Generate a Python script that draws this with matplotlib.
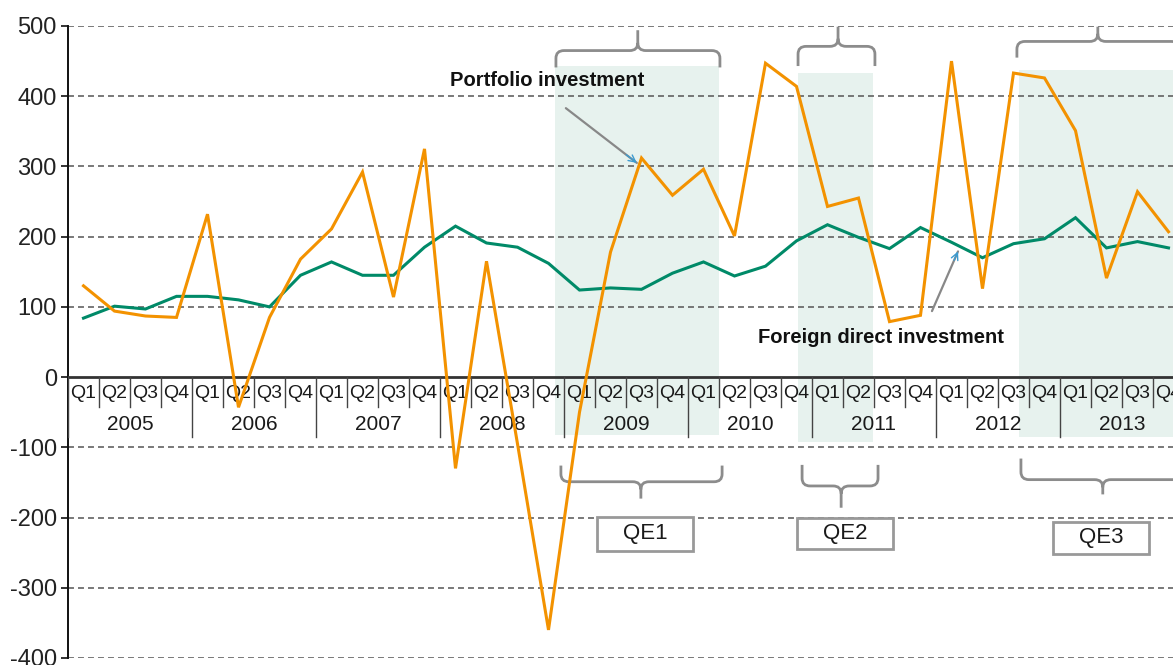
import numpy as np
import matplotlib
matplotlib.use("Agg")
import matplotlib.pyplot as plt
from matplotlib.path import Path
from matplotlib.patches import PathPatch, Rectangle

plt.rcParams['font.family'] = ['Liberation Sans', 'DejaVu Sans']
plt.rcParams['lines.scale_dashes'] = False

# ---------------- data ----------------
years = ['2005', '2006', '2007', '2008', '2009', '2010', '2011', '2012', '2013']
quarter_labels = ['Q1', 'Q2', 'Q3', 'Q4']
portfolio = [130, 94, 87, 85, 232, -43, 85, 168, 211, 292, 114, 325,
             -130, 165, -95, -360, -50, 178, 312, 259, 296, 201, 447, 414,
             243, 255, 79, 88, 450, 126, 433, 426, 351, 141, 264, 207]
fdi = [84, 101, 97, 115, 115, 110, 100, 145, 164, 145, 145, 185,
       215, 191, 185, 162, 124, 127, 125, 148, 164, 144, 158, 194,
       217, 199, 183, 213, 192, 170, 190, 197, 227, 184, 193, 184]
yticks = [-400, -300, -200, -100, 0, 100, 200, 300, 400, 500]
qe_names = ['QE1', 'QE2', 'QE3']

ORANGE = '#F39200'
GREEN = '#008A68'
SHADE = '#E7F2EE'
GRAY = '#8C8C8C'

n = len(portfolio)
x = np.arange(n)

W, H = 1173, 665
fig = plt.figure(figsize=(W / 100, H / 100), dpi=100)
# axes span beyond the right edge (chart is cropped there)
left_px, right_px = 68, 1184
top_px, bot_px = 26, 658
ax = fig.add_axes([left_px / W, (H - bot_px) / H,
                   (right_px - left_px) / W, (bot_px - top_px) / H])
ax.set_xlim(-0.5, n - 0.5)
ax.set_ylim(-400, 500)

for s in ['top', 'right', 'bottom']:
    ax.spines[s].set_visible(False)
ax.spines['left'].set_color('#111111')
ax.spines['left'].set_linewidth(1.4)
ax.set_xticks([])
ax.set_yticks(yticks)
ax.set_yticklabels([str(v) for v in yticks], fontsize=17, color='#222222')
ax.tick_params(axis='y', length=5, width=1.2, pad=3, color='#111111')

# gridlines
for v in yticks:
    if v == 0:
        continue
    ax.axhline(v, color='#555555', lw=1.1, ls=(0, (4.3, 2.9)), zorder=1)
ax.axhline(0, color='#333333', lw=2.0, zorder=3)

# QE shaded periods
shades = [(15.2, 20.5, -82, 443), (23.05, 25.47, -92, 433), (30.18, 36.0, -85, 438)]
for (a, b, y0, y1) in shades:
    ax.add_patch(Rectangle((a, y0), b - a, y1 - y0, facecolor=SHADE,
                           edgecolor='none', zorder=0))

# category axis: quarter and year labels + separators
for i in range(n):
    ax.text(x[i], -24, quarter_labels[i % 4], ha='center', va='center',
            fontsize=14, color='#1a1a1a', zorder=4,
            family=['Liberation Sans Narrow', 'Liberation Sans'])
for i in range(n + 1):
    yb = -85 if i % 4 == 0 else -43
    ax.plot([i - 0.5, i - 0.5], [0, yb], color='#444444', lw=1.0, zorder=3)
for k, yr in enumerate(years):
    ax.text(4 * k + 1.5, -68, yr, ha='center', va='center', fontsize=15,
            color='#1a1a1a', zorder=4)

# series
ax.plot(x, fdi, color=GREEN, lw=2.2, zorder=6, solid_joinstyle='miter')
ax.plot(x, portfolio, color=ORANGE, lw=2.2, zorder=7, solid_joinstyle='miter')


# braces
def brace(x0, x1, xc, yl, ye, yt):
    s = np.sign(yt - yl)
    rx, ry = 0.26, 11.0
    verts = [(x0, ye), (x0, yl - s * ry), (x0, yl), (x0 + rx, yl),
             (xc - rx, yl), (xc, yl), (xc, yl + s * ry), (xc, yt),
             (xc, yl + s * ry), (xc, yl), (xc + rx, yl),
             (x1 - rx, yl), (x1, yl), (x1, yl - s * ry), (x1, ye)]
    codes = [Path.MOVETO, Path.LINETO, Path.CURVE3, Path.CURVE3,
             Path.LINETO, Path.CURVE3, Path.CURVE3, Path.LINETO,
             Path.MOVETO, Path.CURVE3, Path.CURVE3,
             Path.LINETO, Path.CURVE3, Path.CURVE3, Path.LINETO]
    ax.add_patch(PathPatch(Path(verts, codes), facecolor='none',
                           edgecolor=GRAY, lw=2.0, zorder=5, clip_on=False))


brace(15.24, 20.53, 17.88, 465, 441, 494)
brace(15.40, 20.60, 17.98, -149, -126, -173)
brace(23.05, 25.53, 24.34, 471, 443, 499)
brace(23.18, 25.63, 24.44, -155, -125, -186)
brace(30.11, 35.35, 32.72, 478, 455, 499)
brace(30.24, 35.50, 32.88, -146, -116, -167)

# QE label boxes
boxes = [(16.56, 19.66, -247, -199, 18.11, -223),
         (23.01, 26.11, -245, -201, 24.56, -223),
         (31.27, 34.37, -252, -207, 32.82, -229)]
for name, (a, b, y0, y1, tx, ty) in zip(qe_names, boxes):
    ax.add_patch(Rectangle((a, y0), b - a, y1 - y0, facecolor='white',
                           edgecolor='#999999', lw=2.0, zorder=8))
    ax.text(tx, ty, name, ha='center', va='center', fontsize=16,
            color='#1a1a1a', zorder=9)

# annotations
ax.text(14.95, 423, 'Portfolio investment', ha='center', va='center',
        fontsize=14.5, fontweight='bold', color='#111111', zorder=9)
ax.text(25.73, 57, 'Foreign direct investment', ha='center', va='center',
        fontsize=14.5, fontweight='bold', color='#111111', zorder=9)


def arrow(x0, y0, x1, y1):
    ax.annotate('', xy=(x1, y1), xytext=(x0, y0),
                arrowprops=dict(arrowstyle='-', color='#888888', lw=1.6,
                                shrinkA=0, shrinkB=0), zorder=9)
    fx = x0 + (x1 - x0) * 0.85
    fy = y0 + (y1 - y0) * 0.85
    ax.annotate('', xy=(x1, y1), xytext=(fx, fy),
                arrowprops=dict(arrowstyle='->,head_length=0.5,head_width=0.25',
                                color='#3C9BD0', lw=1.0, shrinkA=0, shrinkB=0),
                zorder=10)


arrow(15.56, 383, 17.85, 305)
arrow(27.37, 94, 28.21, 179)

fig.savefig('out.png', dpi=100)
